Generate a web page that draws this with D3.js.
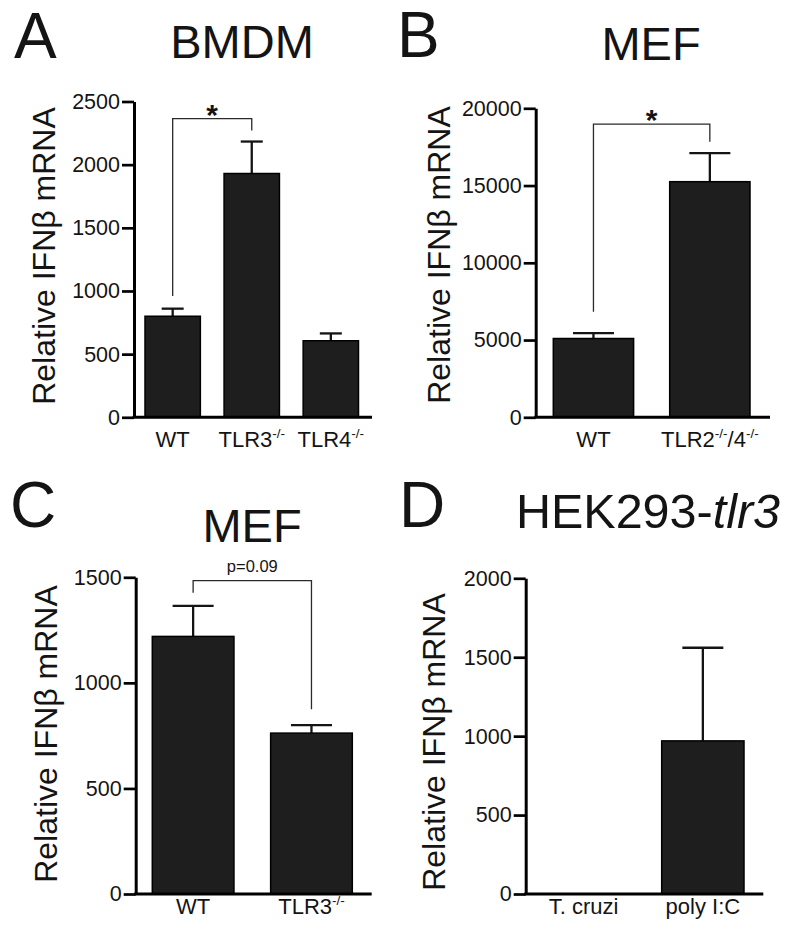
<!DOCTYPE html>
<html>
<head>
<meta charset="utf-8">
<script src="https://cdn.jsdelivr.net/npm/d3@7"></script>
<style>
  body { margin: 0; background: #fff; }
  text { font-family: "Liberation Sans", Arial, Helvetica, sans-serif; fill: #141414; }
</style>
</head>
<body>
<svg id="fig" width="792" height="936"></svg>
<script>
// A - BMDM
var catsA = ["WT", "TLR3{-/-}", "TLR4{-/-}"],
  meanA = [800, 1930, 606],
  semA = [60, 253, 58],
  ticksA = [0, 500, 1000, 1500, 2000, 2500];
var sigA = {from: 0, to: 1, left: 960, top: 2365, right: 2270, label: "*"};

// B - MEF
var catsB = ["WT", "TLR2{-/-}/4{-/-}"],
  meanB = [5100, 15250],
  semB = [350, 1850],
  ticksB = [0, 5000, 10000, 15000, 20000];
var sigB = {from: 0, to: 1, left: 6830, top: 18980, right: 17840, label: "*"};

// C - MEF
var catsC = ["WT", "TLR3{-/-}"],
  meanC = [1220, 762],
  semC = [145, 38],
  ticksC = [0, 500, 1000, 1500];
var sigC = {from: 0, to: 1, left: 1427, top: 1484, right: 875, label: "p=0.09"};

// D - HEK293-tlr3
var catsD = ["T. cruzi", "poly I:C"],
  meanD = [0, 970],
  semD = [0, 590],
  ticksD = [0, 500, 1000, 1500, 2000];

var svg = d3.select("#fig");

var panels = [
  {letter: "A", lx: 14, ly: 58, title: ["BMDM"], tx: 242, ty: 58,
   cats: catsA, mean: meanA, sem: semA, ticks: ticksA, sig: sigA,
   ax: 134, axEnd: 372, bx: [145, 358.5], pad: 0.3, y0: 417.3, y1: 101.5,
   ytx: 55, yty: 256, cap: 22, labY: 447},
  {letter: "B", lx: 397, ly: 57, title: ["MEF"], tx: 651, ty: 60,
   cats: catsB, mean: meanB, sem: semB, ticks: ticksB, sig: sigB,
   ax: 535.7, axEnd: 770, bx: [553.3, 750], pad: 0.31, y0: 417.3, y1: 108.3,
   ytx: 450, yty: 255, cap: 41, labY: 447},
  {letter: "C", lx: 10, ly: 527, title: ["MEF"], tx: 252, ty: 542,
   cats: catsC, mean: meanC, sem: semC, ticks: ticksC, sig: sigC,
   ax: 135.7, axEnd: 371.7, bx: [152.3, 352.3], pad: 0.31, y0: 894, y1: 577.3,
   ytx: 57, yty: 734, cap: 41, labY: 914},
  {letter: "D", lx: 399, ly: 527, title: ["HEK293-", "tlr3"], tx: 648, ty: 528,
   cats: catsD, mean: meanD, sem: semD, ticks: ticksD, sig: null,
   ax: 525.7, axEnd: 763.3, bx: [542.4, 744], pad: 0.31, y0: 894, y1: 578.3,
   ytx: 445, yty: 742, cap: 41, labY: 914}
];

// write "TLR3{-/-}" as text with raised tspans
function richLabel(sel, str) {
  var parts = str.split(/(\{[^}]*\})/).filter(function(s) { return s.length; });
  var raised = false;
  parts.forEach(function(s) {
    if (s[0] === "{") {
      sel.append("tspan").attr("font-size", 13.5).attr("dy", raised ? 0 : -9).text(s.slice(1, -1));
      raised = true;
    } else {
      sel.append("tspan").attr("dy", raised ? 9 : 0).text(s);
      raised = false;
    }
  });
}

panels.forEach(function(p) {
  var g = svg.append("g");
  var n = p.cats.length;

  var x = d3.scaleBand().domain(d3.range(n)).range(p.bx).paddingInner(p.pad).paddingOuter(0);
  var y = d3.scaleLinear().domain([0, d3.max(p.ticks)]).range([p.y0, p.y1]);
  var cx = function(i) { return x(i) + x.bandwidth() / 2; };

  // panel letter and title
  g.append("text").attr("x", p.lx).attr("y", p.ly).attr("font-size", 64).text(p.letter);
  var t = g.append("text").attr("x", p.tx).attr("y", p.ty)
    .attr("font-size", p.title[1] ? 48.5 : 47)
    .attr("text-anchor", "middle");
  t.append("tspan").text(p.title[0]);
  if (p.title[1]) t.append("tspan").attr("font-style", "italic").text(p.title[1]);

  // y title
  g.append("text")
    .attr("transform", "translate(" + p.ytx + "," + p.yty + ") rotate(-90)")
    .attr("text-anchor", "middle").attr("font-size", 32)
    .text("Relative IFN\u03b2 mRNA");

  // error bars (drawn first, bar covers lower part)
  var eb = g.append("g").attr("stroke", "#141414").attr("stroke-width", 2.3);
  p.mean.forEach(function(v, i) {
    if (p.sem[i] <= 0) return;
    eb.append("line").attr("x1", cx(i)).attr("x2", cx(i))
      .attr("y1", y(v)).attr("y2", y(v + p.sem[i]));
    eb.append("line").attr("x1", cx(i) - p.cap / 2).attr("x2", cx(i) + p.cap / 2)
      .attr("y1", y(v + p.sem[i])).attr("y2", y(v + p.sem[i]));
  });

  // bars
  g.selectAll(".bar").data(p.mean).enter().append("rect")
    .attr("class", "bar")
    .attr("x", function(d, i) { return x(i); })
    .attr("y", function(d) { return y(d); })
    .attr("width", x.bandwidth())
    .attr("height", function(d) { return y(0) - y(d); })
    .attr("fill", "#1e1e1e")
    .attr("stroke", "#000")
    .attr("stroke-width", 1.5);

  // y axis
  var yax = g.append("g")
    .attr("transform", "translate(" + p.ax + ",0)")
    .call(d3.axisLeft(y).tickValues(p.ticks).tickSize(12).tickSizeOuter(0).tickPadding(2).tickFormat(d3.format("d")));
  yax.select(".domain").attr("stroke", "#000").attr("stroke-width", 3);
  yax.selectAll(".tick line").attr("stroke", "#000").attr("stroke-width", 2.7);
  yax.selectAll(".tick text").attr("font-size", 21.5).attr("font-family", null).attr("fill", "#1a1a1a");

  // x axis baseline
  g.append("line").attr("x1", p.ax - 1.5).attr("x2", p.axEnd)
    .attr("y1", y(0)).attr("y2", y(0))
    .attr("stroke", "#000").attr("stroke-width", 3);

  // category labels
  var xax = g.append("g")
    .attr("transform", "translate(0," + y(0) + ")")
    .call(d3.axisBottom(x).tickSize(0).tickFormat(""));
  xax.select(".domain").remove();
  xax.selectAll(".tick text")
    .attr("y", p.labY - p.y0).attr("dy", null)
    .attr("font-size", 22).attr("font-family", null).attr("fill", "#1a1a1a")
    .each(function(d) { richLabel(d3.select(this), p.cats[d]); });

  // significance bracket
  if (p.sig) {
    var s = p.sig;
    var path = d3.path();
    path.moveTo(cx(s.from), y(s.left));
    path.lineTo(cx(s.from), y(s.top));
    path.lineTo(cx(s.to), y(s.top));
    path.lineTo(cx(s.to), y(s.right));
    g.append("path").attr("d", path.toString())
      .attr("fill", "none").attr("stroke", "#2a2a2a").attr("stroke-width", 1.3);
    var star = s.label === "*";
    g.append("text")
      .attr("x", (cx(s.from) + cx(s.to)) / 2)
      .attr("y", y(s.top) + (star ? 6 : -9))
      .attr("text-anchor", "middle")
      .attr("font-size", star ? 30 : 16.5)
      .attr("font-weight", star ? "bold" : null)
      .text(s.label);
  }
});
</script>
</body>
</html>
